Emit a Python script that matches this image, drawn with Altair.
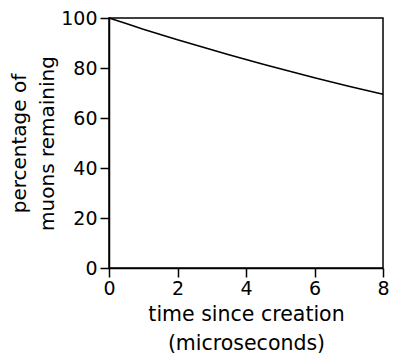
import altair as alt
import pandas as pd

time_us = [0, 0.5, 1, 1.5, 2, 2.5, 3, 3.5, 4, 4.5, 5, 5.5, 6, 6.5, 7, 7.5, 8]
pct_remaining = [100, 97.8, 95.5, 93.4, 91.3, 89.3, 87.3, 85.3, 83.4, 81.5, 79.7, 77.9, 76.1, 74.4, 72.7, 71.1, 69.5]

df = pd.DataFrame({"t": time_us, "p": pct_remaining})

FONT = "DejaVu Sans"

chart = alt.Chart(df).mark_line(color="black", strokeWidth=1.5).encode(
    x=alt.X("t:Q", scale=alt.Scale(domain=[0, 8], nice=False, zero=False),
            axis=alt.Axis(values=[0, 2, 4, 6, 8], title=["time since creation", "(microseconds)"],
                          grid=False, domainColor="black", domainWidth=1.5,
                          tickColor="black", tickWidth=1.5, tickSize=9,
                          labelFont=FONT, labelFontSize=19, labelColor="black", labelPadding=2,
                          labelFlush=False, labelOverlap=False,
                          titleFont=FONT, titleFontSize=20.5, titleFontWeight="normal",
                          titleColor="black", titlePadding=6, titleLineHeight=29)),
    y=alt.Y("p:Q", scale=alt.Scale(domain=[0, 100], nice=False),
            axis=alt.Axis(values=[0, 20, 40, 60, 80, 100], title=["percentage of", "muons remaining"],
                          grid=False, domainColor="black", domainWidth=1.5,
                          tickColor="black", tickWidth=1.5, tickSize=9,
                          labelFont=FONT, labelFontSize=19, labelColor="black", labelPadding=3,
                          labelFlush=False, labelOverlap=False,
                          titleFont=FONT, titleFontSize=20, titleFontWeight="normal",
                          titleColor="black", titlePadding=3, titleLineHeight=28)),
).properties(
    width=274, height=250,
    autosize=alt.AutoSizeParams(type="none"),
    padding={"left": 101, "top": 10, "right": 6, "bottom": 92},
).configure_view(stroke="black", strokeWidth=1.5)

chart.save("out.html", embed_options={"renderer": "svg", "actions": False})
